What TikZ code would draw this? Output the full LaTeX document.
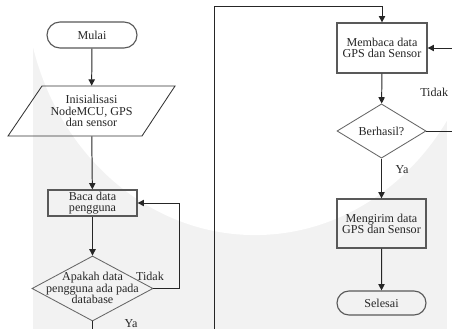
\documentclass[tikz,border=0pt]{standalone}
\usepackage{fontspec}
\setmainfont{Liberation Serif}
\usepackage{tikz}
\usetikzlibrary{shapes}
\usetikzlibrary{arrows.meta}

\begin{document}
\begin{tikzpicture}[x=0.025cm, y=0.025cm,
  >={Triangle[length=4.5pt,width=4.5pt]},
  every node/.style={font=\fontsize{8.6}{8}\selectfont, text=black!85},
  term/.style={rounded rectangle, draw=black!65, line width=0.8pt, inner sep=0pt},
  box/.style={rectangle, draw=black!65, line width=0.9pt, align=center, inner sep=0pt},
  io/.style={rectangle, align=center, inner sep=0pt},
  cond/.style={diamond, draw=black!60, line width=0.6pt, inner sep=0pt},
  line/.style={black!85, line width=0.7pt}]
\useasboundingbox (0,0) rectangle (452,-329);
\clip (0,0) rectangle (452,-329);

\begin{scope}
\clip (33,0) rectangle (447,-329);
\fill [gray!10] (33,0) rectangle (447,-329);
\fill [white] (255,20) ellipse [x radius=5.75cm, y radius=6.375cm];
\end{scope}

\node (T1) at (92,-35) [term, minimum width=2.25cm, minimum height=0.65cm] {Mulai};
\node (P1) at (91.5,-111) [io, minimum width=2.5cm, minimum height=1.25cm] {Inisialisasi\\NodeMCU, GPS\\dan sensor};
\draw [black!80, line width=0.6pt] (P1.center) ++(-49.5,25) -- ++(133,0) -- ++(-33,-50) -- ++(-134,0) -- cycle;
\node (B1) at (92.5,-203) [box, minimum width=2.225cm, minimum height=0.65cm] {Baca data\\pengguna};
\node (D1) at (92.5,-288.5) [cond, minimum width=3.025cm, minimum height=1.625cm] {};
\node (D1t) at (92.5,-288) [align=center] {Apakah data\\pengguna ada pada\\database};

\node (B2) at (382,-48) [box, minimum width=2.25cm, minimum height=1.25cm] {Membaca data\\GPS dan Sensor};
\node (D2) at (381.5,-131) [cond, minimum width=2.225cm, minimum height=1.2cm] {Berhasil?};
\node (B3) at (381.5,-223.5) [box, minimum width=2.225cm, minimum height=1.225cm] {Mengirim data\\GPS dan Sensor};
\node (T2) at (381.5,-303) [term, minimum width=2.225cm, minimum height=0.6cm] {Selesai};

\coordinate (E1) at (92.5,-329);
\coordinate (E2) at (214,-329);
\coordinate (E3) at (452,-131);
\coordinate (E4) at (452,-48);

\draw [->, line] (T1) -- (P1);
\draw [->, line] (P1) -- (B1);
\draw [->, line] (B1) -- (D1);
\draw [->, line] (D1.east) -- ++(26,0) |- (B1.east);
\draw [line] (D1) -- (E1);

\draw [->, line] (E2) -- ++(0,323) -| (B2.north);
\draw [->, line] (B2) -- (D2);
\draw [line] (D2.east) -- (E3);
\draw [->, line] (E4) -- (B2.east);
\draw [->, line] (D2) -- (B3);
\draw [->, line] (B3) -- (T2);

\node (L1) at (150,-276) {Tidak};
\node (L2) at (131,-327) [anchor=base] {Ya};
\node (L3) at (453,-92) [anchor=east] {Tidak};
\node (L4) at (402,-170) {Ya};
\end{tikzpicture}
\end{document}
